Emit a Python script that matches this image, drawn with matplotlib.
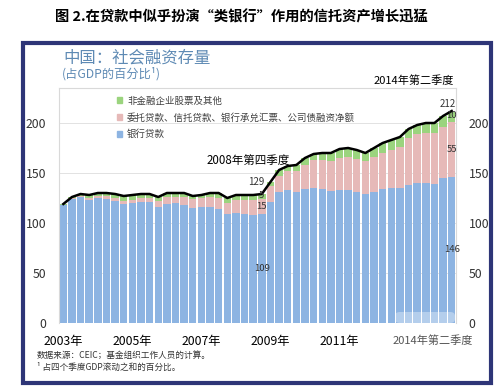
import matplotlib.pyplot as plt
import matplotlib.patches as mpatches
import numpy as np

plt.rcParams['font.family'] = ['Noto Sans CJK SC', 'DejaVu Sans']

# 季度 2003Q1 - 2014Q2
quarters = [f"{y}Q{q}" for y in range(2003, 2015) for q in range(1, 5)][:46]

# 银行贷款
bank_loans = [118, 124, 126, 123, 125, 124, 122, 119, 120, 121,
              121, 116, 119, 120, 118, 115, 116, 116, 114, 109,
              110, 109, 108, 109, 121, 131, 133, 131, 134, 135,
              134, 132, 133, 133, 131, 129, 131, 134, 135, 135,
              138, 140, 140, 139, 145, 146]
# 委托贷款、信托贷款、银行承兑汇票、公司债融资净额
shadow = [0, 1, 1, 2, 2, 3, 3, 3, 3, 4,
          4, 6, 7, 6, 8, 9, 9, 10, 11, 11,
          13, 14, 15, 15, 16, 16, 19, 21, 24, 28,
          29, 30, 32, 33, 33, 33, 35, 36, 38, 41,
          47, 49, 50, 51, 51, 55]
# 非金融企业股票及其他
equity = [1, 1, 2, 3, 3, 3, 4, 5, 5, 4,
          4, 4, 4, 4, 4, 3, 3, 4, 5, 5,
          5, 5, 5, 5, 4, 6, 5, 6, 7, 6,
          7, 8, 9, 9, 9, 8, 9, 10, 10, 10,
          9, 9, 10, 10, 11, 10]
# 总量(黑线)
total = [119, 126, 129, 128, 130, 130, 129, 127, 128, 129,
         129, 126, 130, 130, 130, 127, 128, 130, 130, 125,
         128, 128, 128, 129, 141, 153, 157, 158, 165, 169,
         170, 170, 174, 175, 173, 170, 175, 180, 183, 186,
         194, 198, 200, 200, 207, 212]

year_ticks = ["2003Q1", "2005Q1", "2007Q1", "2009Q1", "2011Q1"]
year_labels = ["2003年", "2005年", "2007年", "2009年", "2011年"]
marked = ["2008Q4", "2014Q2"]

c_blue = '#8DB4E2'
c_pink = '#E6B9B8'
c_green = '#9BD47E'

W, H = 501, 392
fig = plt.figure(figsize=(W / 100, H / 100), dpi=100)

# 深蓝外框
fig.patches.append(mpatches.Rectangle((23 / W, 1 - 383 / H), 468 / W, 340 / H,
                                      transform=fig.transFigure, fill=False,
                                      edgecolor='#2E3577', lw=3))

ax = fig.add_axes([59 / W, 1 - 323 / H, 397 / W, 235 / H])
x = np.arange(len(quarters))
b = np.array(bank_loans)
s = np.array(shadow)
e = np.array(equity)

ax.bar(x, b, width=0.86, color=c_blue, zorder=2)
ax.bar(x, s, width=0.86, bottom=b, color=c_pink, zorder=2)
ax.bar(x, e, width=0.86, bottom=b + s, color=c_green, zorder=2)
ax.plot(x, total, color='black', lw=1.8, zorder=3)

ax.set_xlim(-0.5, len(quarters) - 0.5)
ax.set_ylim(0, 235)
ax.set_yticks([0, 50, 100, 150, 200])
ax.grid(axis='y', color='#DDDDDD', lw=0.6, zorder=0)
ax.tick_params(axis='y', length=0, labelleft=True, labelright=True,
               labelsize=8.8, colors='#333333', pad=9)
ax.set_xticks([quarters.index(q) for q in year_ticks])
ax.set_xticklabels(year_labels)
ax.tick_params(axis='x', length=0, labelsize=8.8, pad=9)
for sp in ax.spines.values():
    sp.set_color('#D9D9D9')
    sp.set_linewidth(0.8)
ax.spines['bottom'].set_visible(False)

# 数据标签
for q in marked:
    i = quarters.index(q)
    ax.text(i, b[i] / 2, str(b[i]), ha='center', va='center', fontsize=6.8, color='#333333', zorder=4)
    ax.text(i, b[i] + s[i] / 2, str(s[i]), ha='center', va='center', fontsize=6.8, color='#333333', zorder=4)
    ax.text(i, b[i] + s[i] + e[i] / 2 + 1, str(e[i]), ha='center', va='center', fontsize=6.8, color='#333333', zorder=4)
i = quarters.index("2008Q4")
ax.text(i - 0.6, total[i] + 12, str(total[i]), ha='center', va='center', fontsize=7, color='#333333', zorder=4)
ax.text(i + 3.3, total[i] + 34, "2008年第四季度", ha='right', va='center', fontsize=8.3, color='black')
i = quarters.index("2014Q2")
ax.text(i - 0.4, total[i] + 7, str(total[i]), ha='center', va='center', fontsize=7, color='#333333', zorder=4)

# 图例
handles = [mpatches.Patch(color=c_green, label='非金融企业股票及其他'),
           mpatches.Patch(color=c_pink, label='委托贷款、信托贷款、银行承兑汇票、公司债融资净额'),
           mpatches.Patch(color=c_blue, label='银行贷款')]
leg = ax.legend(handles=handles, loc='upper left', bbox_to_anchor=(0.125, 1.0),
                frameon=False, fontsize=6.8, handlelength=0.55, handleheight=0.55,
                handletextpad=0.5, labelspacing=0.75)
for t in leg.get_texts():
    t.set_color('#404040')

# 半透明水印块
ax.add_patch(mpatches.FancyBboxPatch((395 / W, 1 - 323 / H), 60 / W, 11 / H,
                                     boxstyle='round,pad=0,rounding_size=0.01',
                                     transform=fig.transFigure, facecolor='white',
                                     edgecolor='none', alpha=0.35, zorder=5))

fig.text(241 / W, 1 - 17 / H, '图 2.在贷款中似乎扮演“类银行”作用的信托资产增长迅猛',
         ha='center', va='center', fontsize=10.3, fontweight='bold', color='black')
fig.text(63 / W, 1 - 58 / H, '中国：社会融资存量', ha='left', va='center',
         fontsize=11.8, color='#5E8AB4')
fig.text(62 / W, 1 - 74 / H, '(占GDP的百分比¹)', ha='left', va='center',
         fontsize=8.8, color='#5E8AB4')
fig.text(454 / W, 1 - 81 / H, '2014年第二季度', ha='right', va='center',
         fontsize=8, color='black')
fig.text(473 / W, 1 - 341 / H, '2014年第二季度', ha='right', va='center',
         fontsize=8, color='#555555')
fig.text(37 / W, 1 - 355 / H, '数据来源：CEIC；基金组织工作人员的计算。', ha='left', va='center',
         fontsize=6.2, color='#333333')
fig.text(37 / W, 1 - 367 / H, '¹ 占四个季度GDP滚动之和的百分比。', ha='left', va='center',
         fontsize=6.2, color='#333333')

plt.savefig('out.png', dpi=100)
